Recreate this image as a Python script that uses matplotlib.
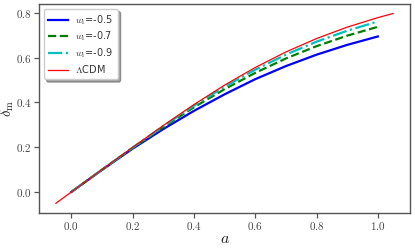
import matplotlib
matplotlib.use("Agg")
import matplotlib.pyplot as plt
from matplotlib.ticker import FuncFormatter, MultipleLocator

plt.rcParams['mathtext.fontset'] = 'cm'
plt.rcParams['font.family'] = ['DejaVu Sans']

# scale factor grids
a_lcdm = [-0.05, 0.0, 0.1, 0.2, 0.3, 0.4, 0.5, 0.6, 0.7, 0.8, 0.9, 1.0, 1.05]
d_lcdm = [-0.05, 0.0, 0.0999, 0.1993, 0.2967, 0.3899, 0.4768, 0.5554, 0.6247, 0.6846, 0.7354, 0.7779, 0.7965]

a_model = [0.0, 0.1, 0.2, 0.3, 0.4, 0.5, 0.6, 0.7, 0.8, 0.9, 1.0]
d_w05 = [0.0, 0.0985, 0.1933, 0.2807, 0.3619, 0.4358, 0.5034, 0.5617, 0.6126, 0.6564, 0.6939]
d_w07 = [0.0, 0.0993, 0.1963, 0.2897, 0.3779, 0.4588, 0.5314, 0.5957, 0.6506, 0.6974, 0.7369]
d_w09 = [0.0, 0.0997, 0.1983, 0.2937, 0.3849, 0.4698, 0.5454, 0.6127, 0.6706, 0.7194, 0.7609]

labels = [r"$w_{\rm i}$=-0.5", r"$w_{\rm i}$=-0.7", r"$w_{\rm i}$=-0.9", r"$\Lambda$CDM"]

fig = plt.figure(figsize=(4.15, 2.48), dpi=100)
ax = fig.add_axes([0.094, 0.142, 0.894, 0.842])

ax.plot(a_model, d_w05, color='b', lw=1.6, ls='-', label=labels[0])
ax.plot(a_model, d_w07, color='g', lw=1.6, ls='--', label=labels[1])
ax.plot(a_model, d_w09, color='c', lw=1.6, ls='-.', label=labels[2])
ax.plot(a_lcdm, d_lcdm, color='r', lw=0.9, ls='-', label=labels[3])

ax.xaxis.set_major_locator(MultipleLocator(0.2))
ax.yaxis.set_major_locator(MultipleLocator(0.2))
fmt = FuncFormatter(lambda v, p: "$%.1f$" % (0.0 if abs(v) < 1e-9 else v))
ax.xaxis.set_major_formatter(fmt)
ax.yaxis.set_major_formatter(fmt)

for s in ax.spines.values():
    s.set_color('#555555')
    s.set_linewidth(1.0)
ax.tick_params(direction='out', length=3.5, width=0.9, color='#555555',
               labelsize=8, labelcolor='#444444', pad=2)

ax.set_xlabel(r"$a$", fontsize=11.5, color='#222222')
ax.set_ylabel(r"$\delta_{\rm m}$", fontsize=10.5, color='#222222')
ax.xaxis.set_label_coords(0.5, -0.085)
ax.yaxis.set_label_coords(-0.062, 0.5)

leg = ax.legend(loc='upper left', fontsize=7, frameon=True, shadow=True,
                fancybox=True, borderpad=0.45, labelspacing=0.3)
for t in leg.get_texts():
    t.set_color('#333333')

fig.savefig("out.png", dpi=100)
